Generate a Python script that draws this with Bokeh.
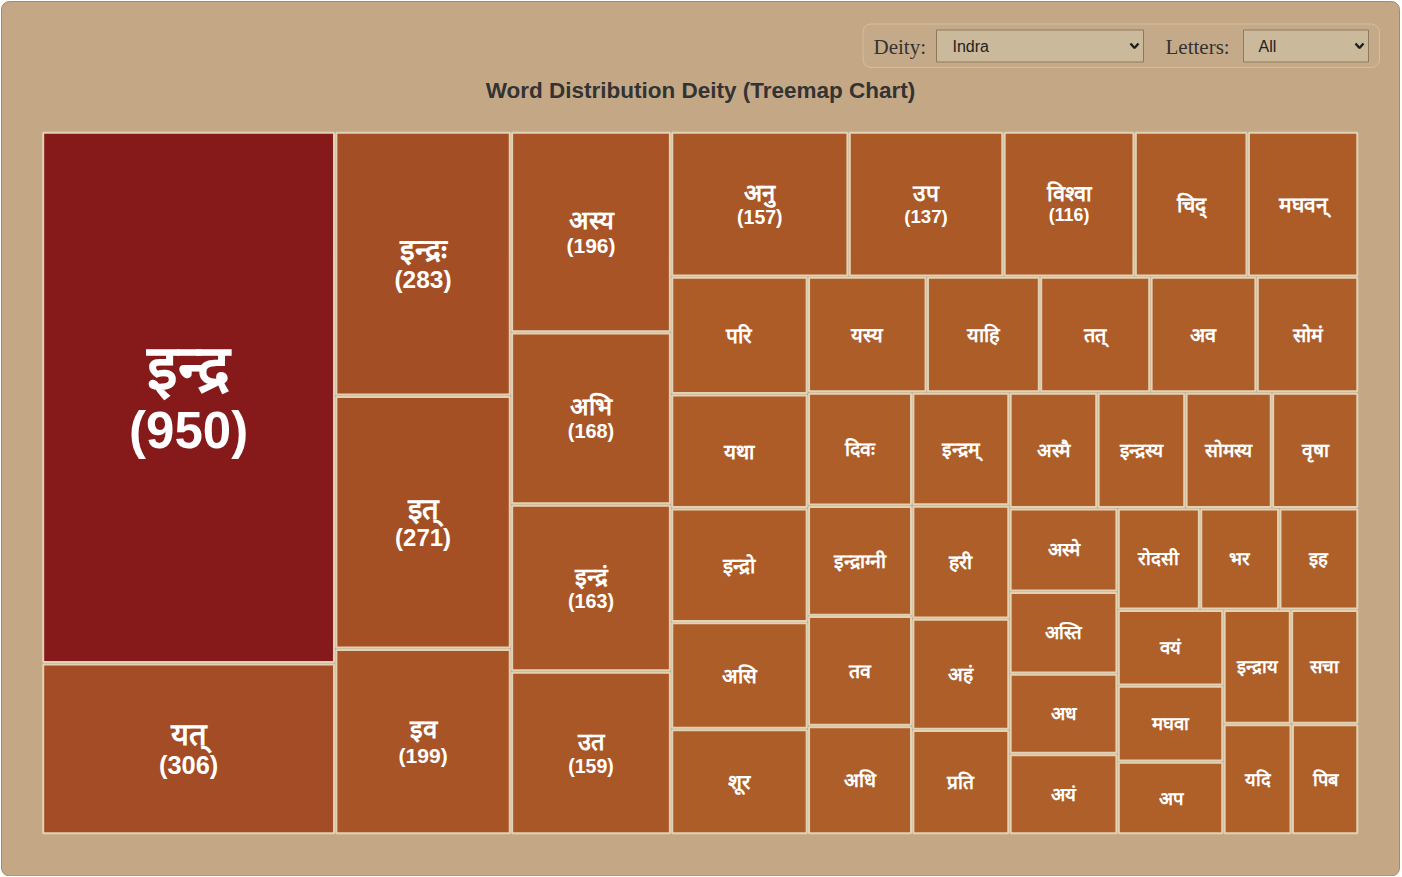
from bokeh.plotting import figure
from bokeh.models import ColumnDataSource, Range1d, GlobalInlineStyleSheet
from bokeh.core.properties import value, field
from bokeh.embed import file_html
from bokeh.resources import INLINE

# word counts for deity Indra, sorted by count
words = [
    "इन्द्र", "यत्", "इन्द्रः", "इत्", "इव", "अस्य", "अभि", "इन्द्रं", "उत", "अनु",
    "उप", "विश्वा", "चिद्", "मघवन्", "परि", "यथा", "इन्द्रो", "असि", "शूर", "यस्य",
    "याहि", "तत्", "अव", "सोमं", "दिवः", "इन्द्राग्नी", "तव", "अधि", "इन्द्रम्", "हरी",
    "अहं", "प्रति", "अस्मै", "इन्द्रस्य", "सोमस्य", "वृषा", "अस्मे", "अस्ति", "अध", "अयं",
    "रोदसी", "भर", "इह", "वयं", "मघवा", "अप", "इन्द्राय", "सचा", "यदि", "पिब",
]
counts = [
    950, 306, 283, 271, 199, 196, 168, 163, 159, 157,
    137, 116, 100, 98, 98, 95, 95, 89, 88, 84,
    80, 78, 75, 72, 72, 70, 70, 69, 67, 67,
    66, 62, 62, 62, 61, 61, 55, 54, 53, 53,
    51, 49, 49, 49, 49, 47, 47, 47, 46, 45,
]
deity_choice = "Indra"
letters_choice = "All"
title_text = "Word Distribution Deity (Treemap Chart)"

W, H = 1400, 876
TM = (41.5, 131, 1358, 834)          # treemap box: left, top, right, bottom
LOW = (175, 96, 41)
HIGH = (134, 26, 26)


def squarify(vals, x0, y0, x1, y1):
    # plain Bruls squarified layout, rows along the shorter side
    scale = (x1 - x0) * (y1 - y0) / sum(vals)
    out = []
    i = 0
    while i < len(vals):
        w, h = x1 - x0, y1 - y0
        side = min(w, h)

        def worst(row):
            s = sum(row) * scale
            return max(side * side * max(row) * scale / (s * s),
                       s * s / (side * side * min(row) * scale))

        row = [vals[i]]
        best = worst(row)
        j = i + 1
        while j < len(vals):
            r = worst(row + [vals[j]])
            if r > best:
                break
            row.append(vals[j])
            best = r
            j += 1
        s = sum(row) * scale
        if w >= h:
            cw = s / h
            yy = y0
            for v in row:
                hh = v * scale / cw
                out.append((x0, yy, x0 + cw, yy + hh))
                yy += hh
            x0 += cw
        else:
            rh = s / w
            xx = x0
            for v in row:
                ww = v * scale / rh
                out.append((xx, y0, xx + ww, y0 + rh))
                xx += ww
            y0 += rh
        i = j
    return out


def shade(v):
    t = (v - min(counts)) / (max(counts) - min(counts))
    return "#%02x%02x%02x" % tuple(round(a + (b - a) * t) for a, b in zip(LOW, HIGH))


rects = squarify(counts, *TM)

cells = dict(l=[], r=[], t=[], b=[], color=[], cx=[], wy=[], fs=[], word=[])
nums = dict(cx=[], y=[], fs=[], txt=[])
for (x0, y0, x1, y1), wd, c in zip(rects, words, counts):
    pad = 1.2
    cells["l"].append(x0 + pad)
    cells["r"].append(x1 - pad)
    cells["t"].append(y0 + pad)
    cells["b"].append(y1 - pad)
    cells["color"].append(shade(c))
    fs = 15 + 36 * (c - min(counts)) / (max(counts) - min(counts))
    cx, cy = (x0 + x1) / 2, (y0 + y1) / 2
    cells["cx"].append(cx)
    cells["fs"].append("%.1fpx" % (fs * 1.22))
    cells["word"].append(wd)
    if (x1 - x0) > 120 and (y1 - y0) > 120:
        cells["wy"].append(cy - 0.58 * fs)
        nums["cx"].append(cx)
        nums["y"].append(cy + 0.64 * fs)
        nums["fs"].append("%.1fpx" % fs)
        nums["txt"].append("(%d)" % c)
    else:
        cells["wy"].append(cy)

p = figure(width=W, height=H, x_range=Range1d(0, W), y_range=Range1d(H, 0),
           x_axis_type=None, y_axis_type=None, toolbar_location=None,
           output_backend="svg", min_border=0,
           stylesheets=[GlobalInlineStyleSheet(css="html, body { margin: 0; padding: 0; background: #ffffff; }")])
p.outline_line_color = None
p.background_fill_color = "#ffffff"
p.border_fill_color = "#ffffff"

# page panel
p.quad(left=1, right=W - 1, top=1, bottom=H - 0.5, border_radius=8,
       fill_color="#c4a886", line_color="#a08c6b", line_width=1)

# filter bar
p.quad(left=862.5, right=1379, top=23.5, bottom=67, border_radius=8,
       fill_color="#c5aa89", line_color="#d3be9e", line_width=1)
sel = dict(l=[936, 1243], r=[1143, 1368], t=[29.5, 29.5], b=[61.5, 61.5],
           lab_x=[873, 1165], lab=["Deity:", "Letters:"],
           txt_x=[952, 1258], txt=[deity_choice, letters_choice])
p.quad(left=sel["l"], right=sel["r"], top=sel["t"], bottom=sel["b"],
       fill_color="#cab99b", line_color="#8c7a5b", line_width=1)
p.text(x=sel["lab_x"], y=[46, 46], text=sel["lab"], text_font=value("Liberation Serif"),
       text_font_size="21px", text_color="#333333", text_baseline="middle")
p.text(x=sel["txt_x"], y=[45.5, 45.5], text=sel["txt"], text_font=value("Liberation Sans"),
       text_font_size="16px", text_color="#222222", text_baseline="middle")
chev_x = [[r - 13, r - 9, r - 5] for r in sel["r"]]
chev_y = [[43, 47.5, 43] for _ in sel["r"]]
p.multi_line(xs=chev_x, ys=chev_y, line_color="#1e1e1e", line_width=2.4)

# title
p.text(x=[700], y=[90], text=[title_text], text_font=value("Liberation Sans"),
       text_font_style="bold", text_font_size="22.5px", text_color="#333333",
       text_align="center", text_baseline="middle")

# treemap
src = ColumnDataSource(cells)
p.quad(left="l", right="r", top="t", bottom="b", source=src, fill_color="color",
       line_color="#e2d2b5", line_width=2)
p.text(x="cx", y="wy", text="word", source=src, text_font=value("Liberation Sans"),
       text_font_style="bold", text_font_size=field("fs"), text_color="#ffffff",
       text_align="center", text_baseline="middle")
p.text(x="cx", y="y", text="txt", source=ColumnDataSource(nums), text_font=value("Liberation Sans"),
       text_font_style="bold", text_font_size=field("fs"), text_color="#ffffff",
       text_align="center", text_baseline="middle")

open("out.html", "w").write(file_html(p, INLINE))
